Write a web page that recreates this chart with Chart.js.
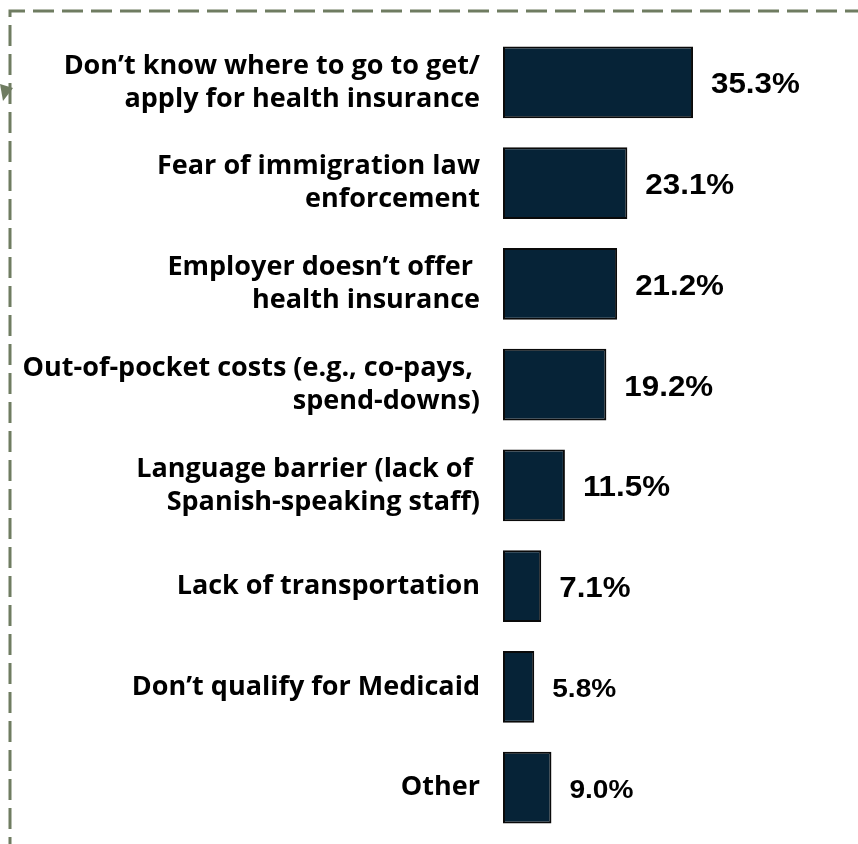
<!DOCTYPE html>
<html>
<head>
<meta charset="utf-8">
<script src="https://cdn.jsdelivr.net/npm/chart.js@4"></script>
<style>
  html, body { margin: 0; padding: 0; background: #fff; }
  canvas { display: block; }
</style>
</head>
<body>
<canvas id="barriersChart" width="858" height="844"></canvas>
<script>
// Chart data
const categories = [
    ['Don’t know where to go to get/', 'apply for health insurance'],
    ['Fear of immigration law', 'enforcement'],
    ['Employer doesn’t offer ', 'health insurance'],
    ['Out-of-pocket costs (e.g., co-pays, ', 'spend-downs)'],
    ['Language barrier (lack of ', 'Spanish-speaking staff)'],
    'Lack of transportation',
    'Don’t qualify for Medicaid',
    'Other'
];
const values = [35.3, 23.1, 21.2, 19.2, 11.5, 7.1, 5.8, 9.0];
const valueLabels = ['35.3%', '23.1%', '21.2%', '19.2%', '11.5%', '7.1%', '5.8%', '9.0%'];

// Font size of each value label (last two are a bit smaller in the original)
const valueFontSizes = [29, 29, 29, 29, 29, 29, 26, 26];

// Dashed frame with the little arrow head on the left
const framePlugin = {
    id: 'frame',
    beforeDraw(chart) {
        const c = chart.ctx;
        c.save();
        c.strokeStyle = '#6f7c61';
        c.lineWidth = 3;
        c.setLineDash([21, 8]);
        c.beginPath();
        c.moveTo(10, 858);
        c.lineTo(10, 11);
        c.lineTo(858, 11);
        c.stroke();
        c.setLineDash([]);
        c.fillStyle = '#6f7c61';
        c.beginPath();
        c.moveTo(0, 84);
        c.lineTo(13, 88);
        c.lineTo(3, 101);
        c.closePath();
        c.fill();
        c.restore();
    }
};

// Value labels to the right of each bar
const valueLabelPlugin = {
    id: 'valueLabels',
    afterDatasetsDraw(chart) {
        const c = chart.ctx;
        const meta = chart.getDatasetMeta(0);
        meta.data.forEach((bar, i) => {
            c.save();
            c.translate(bar.x + 18, bar.y + 3);
            c.scale(1.08, 1);
            c.font = 'bold ' + valueFontSizes[i] + 'px "Liberation Sans", Arial, sans-serif';
            c.fillStyle = '#000';
            c.textAlign = 'left';
            c.textBaseline = 'middle';
            c.fillText(valueLabels[i], 0, 0);
            c.restore();
        });
    }
};

const ctx = document.getElementById('barriersChart').getContext('2d');
const barriersChart = new Chart(ctx, {
    type: 'bar',
    data: {
        labels: categories,
        datasets: [{
            data: values,
            backgroundColor: '#062337',
            borderColor: '#0a0a0a',
            borderWidth: 2,
            borderSkipped: false,
            barPercentage: 0.71,
            categoryPercentage: 1
        }]
    },
    options: {
        indexAxis: 'y',
        responsive: false,
        animation: false,
        layout: { padding: { top: 32, bottom: 6, right: 32, left: 0 } },
        plugins: {
            legend: { display: false },
            tooltip: { enabled: false }
        },
        scales: {
            x: {
                display: false,
                min: 0,
                max: 60
            },
            y: {
                afterFit: (scale) => {
                    scale.width = 503;
                    scale.paddingTop = 0;
                    scale.paddingBottom = 0;
                },
                grid: { display: false, drawTicks: false },
                border: { display: false },
                ticks: {
                    padding: 23,
                    color: '#000',
                    font: { family: 'Open Sans', weight: 'bold', size: 27, lineHeight: 1.22 }
                }
            }
        }
    },
    plugins: [framePlugin, valueLabelPlugin]
});
</script>
</body>
</html>
